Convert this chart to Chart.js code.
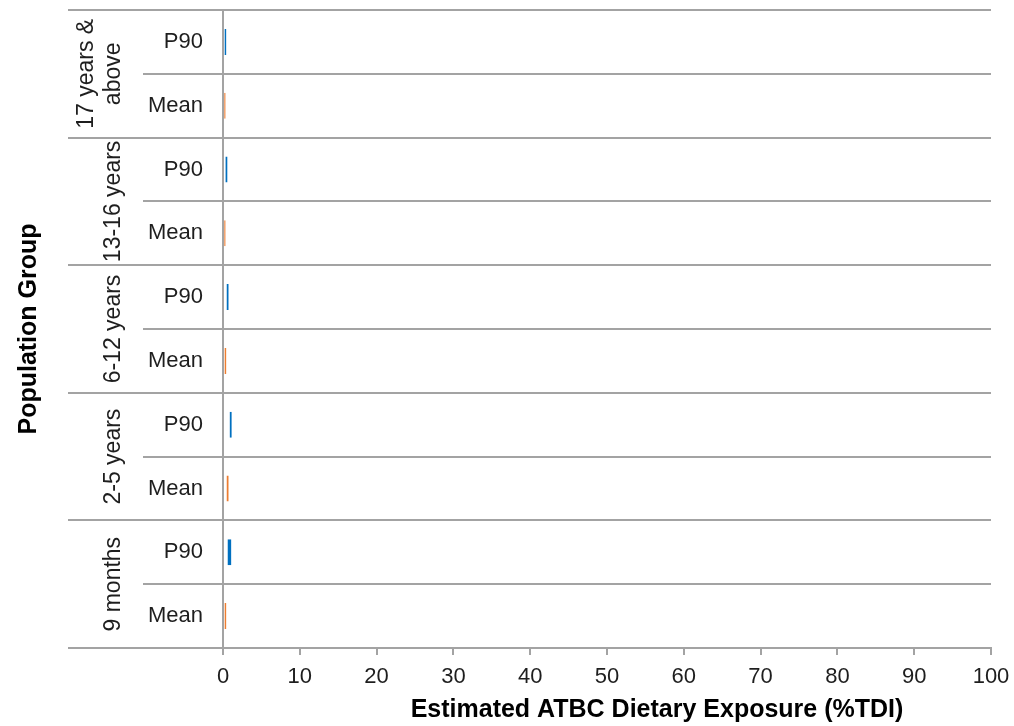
<!DOCTYPE html>
<html>
<head>
<meta charset="utf-8">
<script src="https://cdn.jsdelivr.net/npm/chart.js@4.4.1/dist/chart.umd.min.js"></script>
<style>
  html, body { margin: 0; padding: 0; background: #ffffff; }
  #wrap { width: 1014px; height: 726px; position: relative; }
</style>
</head>
<body>
<div id="wrap"><canvas id="chart" width="1014" height="726"></canvas></div>
<script>
// Population groups (top to bottom) and the statistic shown for each
const groups = [['17 years &', 'above'], ['13-16 years'], ['6-12 years'], ['2-5 years'], ['9 months']];
const statLabels = ['P90', 'Mean'];

// Estimated ATBC dietary exposure, % of TDI
const p90Values = [0.4, 0.55, 0.7, 1.1, 1.05];
const meanValues = [0.3, 0.3, 0.4, 0.7, 0.4];

// Value axis
const xMin = 0;
const xMax = 100;
const xStep = 10;
const xTitle = 'Estimated ATBC Dietary Exposure (%TDI)';
const yTitle = 'Population Group';

// Flatten the two-level category axis into rows
const rowLabels = [];
const rowValues = [];
const rowStat = [];
groups.forEach((g, i) => {
  rowLabels.push(statLabels[0]); rowValues.push(p90Values[i]); rowStat.push('P90');
  rowLabels.push(statLabels[1]); rowValues.push(meanValues[i]); rowStat.push('Mean');
});

const FONT = "'Liberation Sans', Arial, Helvetica, sans-serif";
const GRID = '#a3a3a3';
const TEXT = '#1e1e1e';
const BLUE = '#0070c0';
const ORANGE = '#ed7d31';

// Draws the outer level of the category axis (group dividers, rotated group names)
// and the value-axis title
const groupAxisPlugin = {
  id: 'groupAxis',
  afterDraw(chart) {
    const { ctx, chartArea, scales } = chart;
    const y = scales.y;
    const n = rowLabels.length;
    const per = statLabels.length;
    const half = (y.getPixelForValue(1) - y.getPixelForValue(0)) / 2;
    ctx.save();
    ctx.strokeStyle = GRID;
    ctx.lineWidth = 2;
    for (let r = 0; r <= n; r++) {
      const py = Math.round(r < n ? y.getPixelForValue(r) - half : y.getPixelForValue(n - 1) + half);
      const x0 = (r % per === 0) ? 68 : 143;
      ctx.beginPath();
      ctx.moveTo(x0, py);
      ctx.lineTo(chartArea.left, py);
      ctx.stroke();
    }
    ctx.fillStyle = TEXT;
    ctx.font = '23px ' + FONT;
    ctx.textAlign = 'center';
    ctx.textBaseline = 'alphabetic';
    groups.forEach((lines, g) => {
      const cy = (y.getPixelForValue(g * per) + y.getPixelForValue(g * per + per - 1)) / 2;
      lines.forEach((txt, k) => {
        const bx = 120 - (lines.length - 1 - k) * 27;
        ctx.save();
        ctx.translate(bx, cy);
        ctx.rotate(-Math.PI / 2);
        ctx.fillText(txt, 0, 0);
        ctx.restore();
      });
    });
    // value-axis title
    ctx.fillStyle = '#000';
    ctx.font = 'bold 25px ' + FONT;
    ctx.textAlign = 'center';
    ctx.textBaseline = 'alphabetic';
    ctx.fillText(xTitle, 657, 717);
    ctx.restore();
  }
};

new Chart(document.getElementById('chart'), {
  type: 'bar',
  data: {
    labels: rowLabels,
    datasets: [{
      data: rowValues,
      backgroundColor: 'rgba(0,0,0,0)',
      borderColor: rowStat.map(s => s === 'P90' ? BLUE : ORANGE),
      borderWidth: (c) => ({ top: 0, bottom: 0, left: 0, right: c.dataIndex === rowLabels.length - 2 ? 3 : 1.3 }),
      borderSkipped: false,
      barThickness: 26
    }]
  },
  options: {
    indexAxis: 'y',
    responsive: false,
    devicePixelRatio: 1,
    animation: false,
    layout: { padding: { top: 10, right: 23, left: 0, bottom: 0 } },
    plugins: { legend: { display: false }, tooltip: { enabled: false } },
    scales: {
      x: {
        min: xMin, max: xMax,
        ticks: { stepSize: xStep, color: TEXT, font: { family: FONT, size: 22 }, padding: 9, maxRotation: 0 },
        grid: { drawOnChartArea: false, drawTicks: true, tickLength: 7, color: GRID, lineWidth: 2 },
        border: { display: true, color: GRID, width: 2 },
        title: { display: false },
        afterFit(scale) { scale.height = 78; scale.paddingLeft = 0; scale.paddingRight = 0; }
      },
      y: {
        type: 'category',
        ticks: { color: TEXT, font: { family: FONT, size: 22 }, padding: 20 },
        grid: { offset: true, drawTicks: false, color: GRID, lineWidth: 2 },
        border: { display: true, color: GRID, width: 2 },
        title: {
          display: true, text: yTitle, color: '#000',
          font: { family: FONT, size: 25, weight: 'bold' }, padding: { top: 14, bottom: 0 }
        },
        afterFit(scale) { scale.width = 223; scale.paddingTop = 0; scale.paddingBottom = 0; }
      }
    }
  },
  plugins: [groupAxisPlugin]
});
</script>
</body>
</html>
